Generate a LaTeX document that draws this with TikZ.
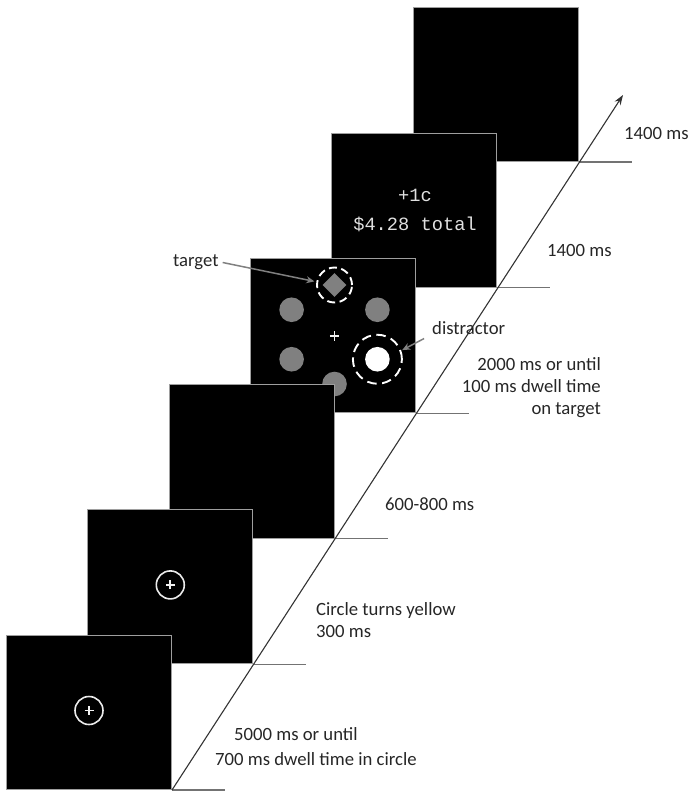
\documentclass[tikz,border=0pt]{standalone}
\usepackage{fontspec}
\setmainfont{Carlito}
\newfontfamily\monofont{Liberation Mono}
\usetikzlibrary{arrows.meta,calc,shapes.geometric}
\begin{document}
\begin{tikzpicture}[x=1pt,y=-1pt,
  panel/.style={draw=black!38, line width=1pt, fill=black, minimum width=165pt, minimum height=154pt, inner sep=0pt, anchor=south east},
  tickline/.style={draw=black!55, line width=1.1pt},
  axisline/.style={draw=black!80, line width=1.1pt, -{Stealth[length=10pt,width=7pt]}},
  lbl/.style={font=\fontsize{18.7}{22}\selectfont, text=black!85, inner sep=0pt},
  mono/.style={font=\monofont\fontsize{18.7}{22}\selectfont, text=white!88!black, inner sep=0pt, anchor=base},
  graydot/.style={circle, fill=black!50, minimum size=24.6pt, inner sep=0pt},
  dashring/.style={circle, draw=white, line width=1.9pt, inner sep=0pt},
  fixring/.style={circle, draw=white!92!black, line width=1.6pt, minimum size=28pt, inner sep=0pt},
  plusline/.style={draw=white!95!black, line width=1.8pt},
  ptr/.style={draw=black!50, line width=1.5pt, -{Stealth[length=8pt,width=7pt]}}
]
\useasboundingbox (0,0) rectangle (691,792);

% panel corners on the time axis
\coordinate (c0) at (172,790);
\coordinate (c1) at (253.3,664.4);
\coordinate (c2) at (334.6,538.8);
\coordinate (c3) at (415.9,413.2);
\coordinate (c4) at (497.2,287.6);
\coordinate (c5) at (578.5,162);
\coordinate (tip) at (623,95);

% panel 6 (blank)
\node[panel] (p6) at (c5) {};

% panel 5 (feedback)
\node[panel] (p5) at (c4) {};
\node[mono] (fb1) at (415,201.7) {+1c};
\node[mono] (fb2) at (415,230) {\$4.28 total};

% panel 4 (search display)
\node[panel] (p4) at (c3) {};
\coordinate (hx) at (334.5,334.5);
\node[diamond, fill=black!50, minimum width=24pt, minimum height=24pt, inner sep=0pt] (tgt) at ($(hx)+(0,-49.5)$) {};
\node[dashring, minimum size=35pt, dash pattern=on 8pt off 4.5pt] (tring) at (tgt) {};
\node[graydot] (d1) at ($(hx)+(-42.9,-24.75)$) {};
\node[graydot] (d2) at ($(hx)+(42.9,-24.75)$) {};
\node[graydot] (d3) at ($(hx)+(-42.9,24.75)$) {};
\node[graydot] (d4) at ($(hx)+(0,49.5)$) {};
\node[circle, fill=white, minimum size=24.6pt, inner sep=0pt] (dist) at ($(hx)+(42.9,24.75)$) {};
\node[dashring, minimum size=49pt, dash pattern=on 9.5pt off 5.5pt] (dring) at (dist) {};
\coordinate (fx4) at (334.5,336);
\draw[plusline] ($(fx4)+(-4.7,0)$) -- ($(fx4)+(4.7,0)$);
\draw[plusline] ($(fx4)+(0,-4.7)$) -- ($(fx4)+(0,4.7)$);

% panel 3 (blank)
\node[panel] (p3) at (c2) {};

% panel 2 (fixation)
\node[panel] (p2) at (c1) {};
\node[fixring] (f2) at ($(p2.center)+(0,-2)$) {};
\draw[plusline] ($(f2)+(-4.5,0)$) -- ($(f2)+(4.5,0)$);
\draw[plusline] ($(f2)+(0,-4.5)$) -- ($(f2)+(0,4.5)$);

% panel 1 (fixation)
\node[panel] (p1) at (c0) {};
\node[fixring] (f1) at ($(p1.center)+(0,-2)$) {};
\draw[plusline] ($(f1)+(-4.5,0)$) -- ($(f1)+(4.5,0)$);
\draw[plusline] ($(f1)+(0,-4.5)$) -- ($(f1)+(0,4.5)$);

% ticks and time axis
\foreach \c in {c0,c1,c2,c3,c4,c5} {\draw[tickline] (\c) -- ++(53,0);}
\draw[axisline] (c0) -- (tip);

% duration labels
\node[lbl, anchor=base west] (t6) at (624,139.3) {1400 ms};
\node[lbl, anchor=base west] (t5) at (547,256) {1400 ms};
\node[lbl, anchor=base east] (t4a) at (601,370.7) {2000 ms or until};
\node[lbl, anchor=base east] (t4b) at (601,392.7) {100 ms dwell time};
\node[lbl, anchor=base east] (t4c) at (601,414.5) {on target};
\node[lbl, anchor=base west] (t3) at (385,510.7) {600-800 ms};
\node[lbl, anchor=base west] (t2a) at (316,615) {Circle turns yellow};
\node[lbl, anchor=base west] (t2b) at (316,637) {300 ms};
\node[lbl, anchor=base west] (t1a) at (234,740.7) {5000 ms or until};
\node[lbl, anchor=base west] (t1b) at (215,765) {700 ms dwell time in circle};

% callouts
\node[lbl, anchor=base west] (tlab) at (173,266) {target};
\node[lbl, anchor=base west] (dlab) at (432,334) {distractor};
\draw[ptr, shorten <=4pt, shorten >=2pt] (tlab.east) -- (tring.170);
\draw[ptr, shorten <=9pt, shorten >=1pt] (dlab.south west) -- (dring.20);
\end{tikzpicture}
\end{document}
